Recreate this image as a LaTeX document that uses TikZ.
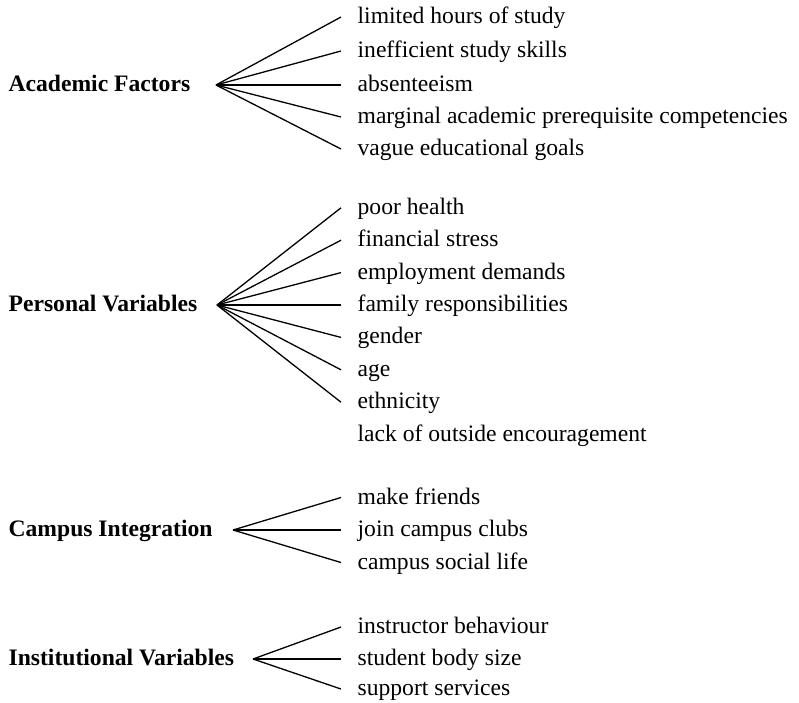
\documentclass[tikz,border=0pt]{standalone}
\usepackage{fontspec}
\setmainfont{Liberation Serif}

\begin{document}
\begin{tikzpicture}[x=1pt, y=-1pt, line width=1.3pt,
		every node/.style={font=\fontsize{23.6}{28}\selectfont, inner sep=0pt, text height=16pt, text depth=3pt},
		head/.style={anchor=west, font=\fontsize{23.6}{28}\selectfont\bfseries},
		item/.style={anchor=west, inner xsep=16pt}]
			\useasboundingbox (0,0) rectangle (799,702);

			% Academic factors
			\node[head] (acad) at (8,85) {Academic Factors};
			\coordinate (acadfan) at (216,85);
			\node[item] (hours) at (341,17) {limited hours of study};
			\node[item] (skills) at (341,51) {inefficient study skills};
			\node[item] (absent) at (341,85) {absenteeism};
			\node[item] (prereq) at (341,117) {marginal academic prerequisite competencies};
			\node[item] (goals) at (341,149) {vague educational goals};
			\draw (acadfan) -- (hours.west);
			\draw (acadfan) -- (skills.west);
			\draw (acadfan) -- (absent.west);
			\draw (acadfan) -- (prereq.west);
			\draw (acadfan) -- (goals.west);

			% Personal variables
			\node[head] (pers) at (8,305) {Personal Variables};
			\coordinate (persfan) at (217,305);
			\node[item] (health) at (341,207.8) {poor health};
			\node[item] (finance) at (341,240.2) {financial stress};
			\node[item] (employ) at (341,272.6) {employment demands};
			\node[item] (family) at (341,305) {family responsibilities};
			\node[item] (gender) at (341,337.4) {gender};
			\node[item] (age) at (341,369.8) {age};
			\node[item] (ethnic) at (341,402.2) {ethnicity};
			\node[item] (encourage) at (341,434.6) {lack of outside encouragement};
			\draw (persfan) -- (health.west);
			\draw (persfan) -- (finance.west);
			\draw (persfan) -- (employ.west);
			\draw (persfan) -- (family.west);
			\draw (persfan) -- (gender.west);
			\draw (persfan) -- (age.west);
			\draw (persfan) -- (ethnic.west);

			% Campus integration
			\node[head] (camp) at (8,530) {Campus Integration};
			\coordinate (campfan) at (233,530);
			\node[item] (friends) at (341,497.5) {make friends};
			\node[item] (clubs) at (341,530) {join campus clubs};
			\node[item] (social) at (341,562.5) {campus social life};
			\draw (campfan) -- (friends.west);
			\draw (campfan) -- (clubs.west);
			\draw (campfan) -- (social.west);

			% Institutional variables
			\node[head] (inst) at (8,659) {Institutional Variables};
			\coordinate (instfan) at (253,659);
			\node[item] (instr) at (341,627) {instructor behaviour};
			\node[item] (bodysize) at (341,659) {student body size};
			\node[item] (support) at (341,689) {support services};
			\draw (instfan) -- (instr.west);
			\draw (instfan) -- (bodysize.west);
			\draw (instfan) -- (support.west);
		\end{tikzpicture}
\end{document}
